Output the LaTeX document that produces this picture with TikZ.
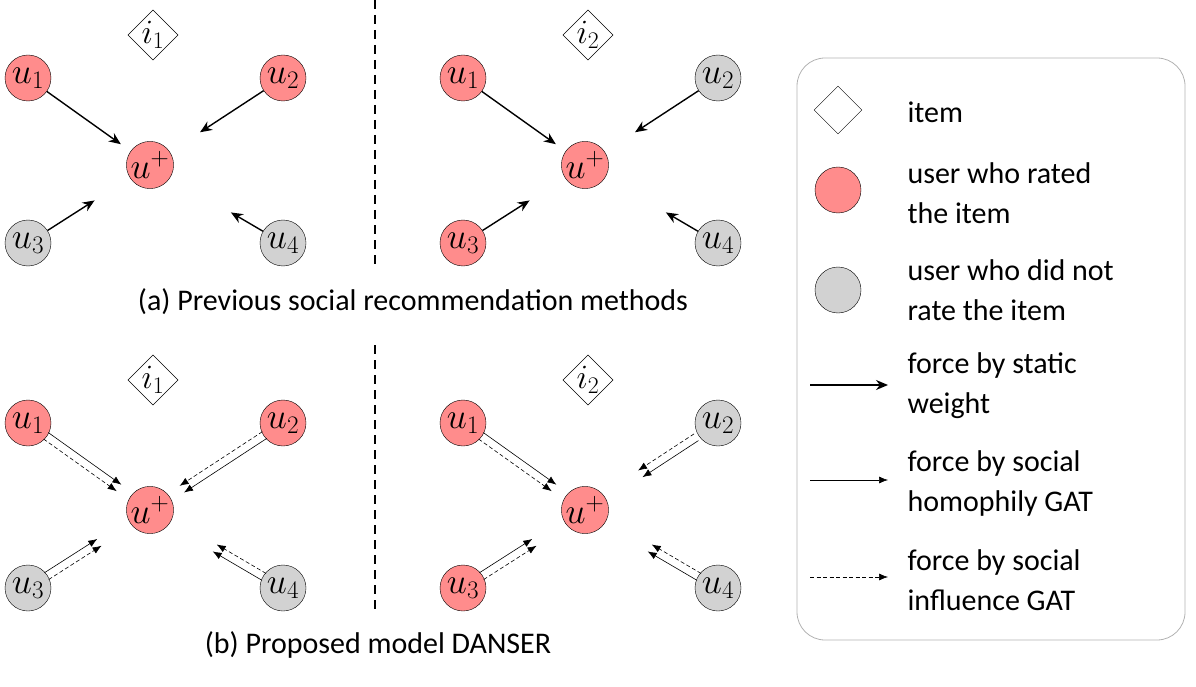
\RequirePackage{fix-cm}
\documentclass[tikz,border=0pt]{standalone}
\usepackage{fontspec}
\setmainfont{Carlito}
\usetikzlibrary{shapes.geometric,calc,arrows.meta}
\begin{document}
\begin{tikzpicture}[x=1pt,y=-1pt,
 red/.style={circle,draw,fill=red!45,minimum size=46pt,inner sep=0pt,font=\fontsize{36}{36}\selectfont},
 gray/.style={red,fill=gray!35},
 item/.style={diamond,draw,fill=white,minimum size=50pt,inner sep=0pt,font=\fontsize{34}{34}\selectfont},
 strong/.style={line width=1.4pt,-{Stealth[length=12pt,width=10pt]}},
 thin/.style={line width=0.6pt,-{Latex[length=9pt,width=7pt]}},
 dsh/.style={thin,dash pattern=on 4pt off 2.5pt},
 txt/.style={font=\fontsize{30}{40}\selectfont,align=left,anchor=west},
 captext/.style={font=\fontsize{30}{34}\selectfont}]
\useasboundingbox (0,0) rectangle (1196,687);
\foreach \dx/\ii/\gtwo/\gthree/\eb/\sb in {0/1/red/gray/38/22,435/2/gray/red/66/26}{
 \begin{scope}[xshift=\dx]
 \node[item] (i) at (153,35) {$i_\ii$};
 \node[red] (p) at (150,165) {$u^+$};
 \node[red] (a) at (28,78) {$u_1$};
 \node[\gtwo] (b) at (283,78) {$u_2$};
 \node[\gthree] (c) at (28,243) {$u_3$};
 \node[gray] (d) at (283,243) {$u_4$};
 \draw[strong,shorten >=12pt] (a) -- (p);
 \draw[strong,shorten >=36pt] (b) -- (p);
 \draw[strong,shorten >=42pt] (c) -- (p);
 \draw[strong,shorten >=70pt] (d) -- (p);
 \end{scope}
 \begin{scope}[xshift=\dx,yshift=-345]
 \node[item] (i) at (153,35) {$i_\ii$};
 \node[red] (p) at (150,165) {$u^+$};
 \node[red] (a) at (28,78) {$u_1$};
 \node[\gtwo] (b) at (283,78) {$u_2$};
 \node[\gthree] (c) at (28,243) {$u_3$};
 \node[gray] (d) at (283,243) {$u_4$};
 \foreach \s/\e/\st in {a/38/22,b/\eb/\sb,c/60/22,d/75/22}{
  \path ($(\s)!\st pt!(p)$) coordinate (s0) ($(p)!\e pt!(\s)$) coordinate (e0);
  \draw[thin] ($(s0)!4pt!90:(e0)$) -- ($(e0)!4pt!-90:(s0)$);
  \draw[dsh] ($(s0)!4pt!-90:(e0)$) -- ($(e0)!4pt!90:(s0)$);
 }
 \end{scope}
}
\draw[dash pattern=on 9pt off 6pt,line width=1.5pt] (375,0) -- (375,265);
\draw[dash pattern=on 9pt off 6pt,line width=1.5pt] (375,345) -- (375,612);
\node[captext] (ca) at (413,302) {(a) Previous social recommendation methods};
\node[captext] (cb) at (378,645) {(b) Proposed model DANSER};
% legend
\draw[rounded corners=28pt,draw=gray!60,line width=0.8pt] (797,58) rectangle (1185,640);
\node[diamond,draw,fill=white,minimum size=48pt,inner sep=0pt] (l1) at (838,110) {};
\node[red] (l2) at (838,190) {};
\node[gray] (l3) at (838,290) {};
\coordinate (a1) at (810,385); \coordinate (a2) at (888,385);
\coordinate (b1) at (810,480); \coordinate (b2) at (888,480);
\coordinate (c1) at (810,577); \coordinate (c2) at (888,577);
\draw[strong] (a1) -- (a2);
\draw[thin] (b1) -- (b2);
\draw[dsh] (c1) -- (c2);
\node[txt] (t1) at (904,112) {item};
\node[txt] (t2) at (904,193) {user who rated\\the item};
\node[txt] (t3) at (904,290) {user who did not\\rate the item};
\node[txt] (t4) at (904,386) {force by static\\weight};
\node[txt] (t5) at (904,483) {force by social\\homophily GAT};
\node[txt] (t6) at (904,580) {force by social\\influence GAT};
\end{tikzpicture}
\end{document}
